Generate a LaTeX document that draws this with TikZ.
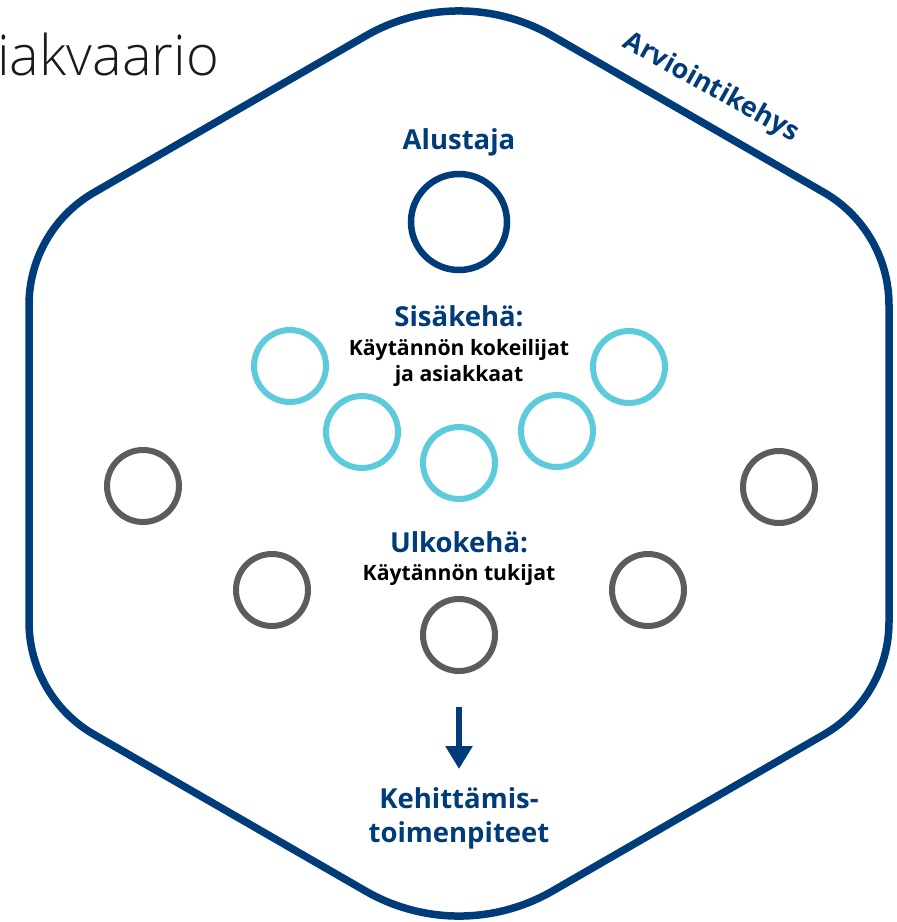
\documentclass[tikz,border=0pt]{standalone}
\usepackage{fontspec}
\setmainfont{Open Sans}
\newfontfamily\bfsans{Open Sans}[UprightFont=* Bold]
\newfontfamily\lightsans{Open Sans Light}
\usetikzlibrary{arrows.meta}
\definecolor{navy}{HTML}{003B7A}
\definecolor{cyanring}{HTML}{5DCBDB}
\definecolor{grayring}{HTML}{5C5C5C}
\definecolor{ink}{HTML}{1A1A1A}
\tikzset{
  frame/.style={draw=navy, line width=7.5pt},
  ring/.style={circle, draw, line width=6pt, minimum size=72pt, inner sep=0pt},
  inner ring/.style={ring, draw=cyanring},
  outer ring/.style={ring, draw=grayring},
  head/.style={font=\bfsans\fontsize{27.5}{32}\selectfont, text=navy, inner sep=0pt, anchor=base},
  sub/.style={font=\bfsans\fontsize{21.2}{26}\selectfont, text=black, inner sep=0pt, anchor=base},
}
\begin{document}
\begin{tikzpicture}[x=1pt,y=-1pt]
\useasboundingbox (0,0) rectangle (897,922);
% hexagon frame
\draw[frame] (365.5,36) .. controls (423.4,2.6) and (494.6,2.6) .. (552.5,36)
  -- (824,192.5) .. controls (864.2,215.7) and (889,258.6) .. (889,305)
  -- (889,622) .. controls (889,668.4) and (864.2,711.3) .. (824,734.5)
  -- (552.5,891) .. controls (494.6,924.4) and (423.4,924.4) .. (365.5,891)
  -- (94,734.5) .. controls (53.8,711.3) and (29,668.4) .. (29,622)
  -- (29,305) .. controls (29,258.6) and (53.8,215.7) .. (94,192.5) -- cycle;
% title
\node[anchor=base west, inner sep=0pt, text=ink, font=\lightsans\fontsize{56}{62}\selectfont] (title) at (-3,75) {iakvaario};
\node[font=\bfsans\fontsize{27}{30}\selectfont, text=navy, rotate=-29, inner sep=0pt] (frm) at (711,88) {Arviointikehys};
% platform
\node[head] (alustaja) at (459,149) {Alustaja};
\node[ring, draw=navy, minimum size=96pt, line width=6.5pt] (plat) at (459,222) {};
% inner circle
\node[head] (sisa) at (459,326) {Sisäkehä:};
\node[sub] (sisa1) at (459,355) {Käytännön kokeilijat};
\node[sub] (sisa2) at (459,381) {ja asiakkaat};
\node[inner ring] (c1) at (290,366) {};
\node[inner ring] (c2) at (362,432) {};
\node[inner ring] (c3) at (459,463) {};
\node[inner ring] (c4) at (557,431) {};
\node[inner ring] (c5) at (629,367) {};
% outer circle
\node[head] (ulko) at (459,552) {Ulkokehä:};
\node[sub] (ulko1) at (459,580) {Käytännön tukijat};
\node[outer ring] (g1) at (143,486) {};
\node[outer ring] (g2) at (272,590) {};
\node[outer ring] (g3) at (459,635) {};
\node[outer ring] (g4) at (648,590) {};
\node[outer ring] (g5) at (779,487) {};
% arrow and development
\coordinate (astart) at (459,707);
\coordinate (aend) at (459,769);
\draw[navy, line width=6pt, -{Triangle[width=26pt,length=23pt]}] (astart) -- (aend);
\node[head] (keh1) at (459,808) {Kehittämis-};
\node[head] (keh2) at (459,842) {toimenpiteet};
\end{tikzpicture}
\end{document}
